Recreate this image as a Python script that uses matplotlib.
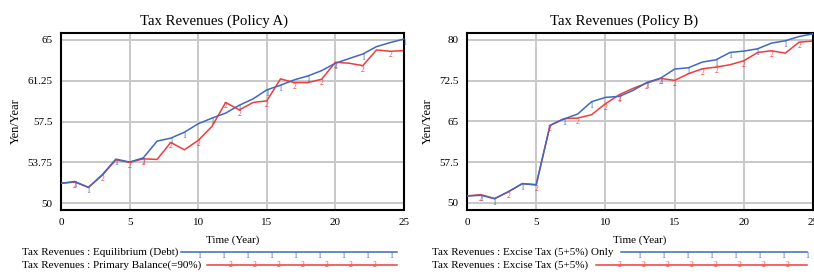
import matplotlib.pyplot as plt
from matplotlib.lines import Line2D

plt.rcParams['font.family'] = ['Liberation Serif', 'DejaVu Serif']

years = list(range(26))

# Policy A
equilibrium_debt = [51.81, 51.99, 51.44, 52.6, 54.04, 53.77, 54.16, 55.69, 55.97, 56.52,
                    57.29, 57.81, 58.27, 59.0, 59.58, 60.41, 60.84, 61.33, 61.69, 62.18,
                    62.86, 63.29, 63.71, 64.39, 64.76, 65.09]
primary_balance = [51.81, 51.93, 51.44, 52.54, 53.98, 53.74, 54.07, 54.01, 55.57, 54.9,
                   55.76, 57.04, 59.25, 58.57, 59.25, 59.4, 61.42, 61.08, 61.08, 61.39,
                   62.95, 62.86, 62.64, 64.08, 63.96, 64.02]

# Policy B
excise_only = [51.28, 51.4, 50.79, 52.08, 53.55, 53.3, 64.26, 65.43, 66.35, 68.61,
               69.41, 69.59, 70.69, 72.16, 72.96, 74.61, 74.86, 75.9, 76.33, 77.67,
               77.92, 78.35, 79.39, 79.82, 80.61, 81.1]
excise_tax = [51.28, 51.53, 50.79, 52.08, 53.55, 53.37, 64.26, 65.49, 65.61, 66.22,
              68.24, 69.9, 71.06, 72.04, 72.9, 72.53, 73.76, 74.67, 74.98, 75.41,
              76.14, 77.67, 77.98, 77.55, 79.57, 79.76]

titles = ["Tax Revenues (Policy A)", "Tax Revenues (Policy B)"]
legend_labels = [
    ["Tax Revenues : Equilibrium (Debt)", "Tax Revenues : Primary Balance(=90%)"],
    ["Tax Revenues : Excise Tax (5+5%) Only", "Tax Revenues : Excise Tax (5+5%)"],
]
yticks_a = [50, 53.75, 57.5, 61.25, 65]
yticks_b = [50, 57.5, 65, 72.5, 80]

BLUE = '#3f68c0'
RED = '#f03c3c'

W, H = 814, 275
fig = plt.figure(figsize=(W / 100, H / 100), dpi=100)
fig.patch.set_facecolor('white')


def draw_panel(rect, title, title_x, s1, s2, yticks, ylim, m1, m2, ylabels):
    ax = fig.add_axes(rect)
    ax.plot(years, s1, color=BLUE, lw=1.1, zorder=3)
    ax.plot(years, s2, color=RED, lw=1.1, zorder=2)
    for i in m1:
        ax.text(years[i], s1[i], '1', color=BLUE, fontsize=5.5, ha='center', va='top', zorder=4)
    for i in m2:
        ax.text(years[i], s2[i], '2', color=RED, fontsize=5.5, ha='center', va='top', zorder=4)
    ax.set_xlim(0, 25)
    ax.set_ylim(*ylim)
    ax.set_xticks([0, 5, 10, 15, 20, 25])
    ax.set_yticks(yticks)
    ax.set_yticklabels(ylabels)
    ax.grid(True, color='#c8c8c8', lw=1.4)
    ax.set_axisbelow(True)
    ax.tick_params(length=0, labelsize=8, pad=6)
    for sp in ax.spines.values():
        sp.set_linewidth(1.5)
    ax.set_title(title, fontsize=10.6, pad=6, x=title_x)
    ax.set_xlabel("Time (Year)", fontsize=8, labelpad=6)
    ax.set_ylabel("Yen/Year", fontsize=9, labelpad=4)
    return ax


draw_panel([61 / W, 1 - 210 / H, 343 / W, 177 / H], titles[0], 0.446,
           equilibrium_debt, primary_balance, yticks_a, (49.36, 65.64),
           [1, 2, 4, 6, 8, 9, 11, 13, 15, 16, 18, 20, 22, 25],
           [1, 3, 5, 6, 8, 10, 12, 13, 15, 17, 19, 20, 22, 24],
           ['50', '53.75', '57.5', '61.25', '65'])
draw_panel([467 / W, 1 - 210 / H, 346 / W, 177 / H], titles[1], 0.454,
           excise_only, excise_tax, yticks_b, (48.7, 81.25),
           [1, 2, 4, 7, 9, 11, 13, 14, 16, 18, 19, 21, 23],
           [1, 3, 5, 6, 8, 10, 11, 13, 14, 15, 17, 18, 20, 22, 24],
           ['50', '57.5', '65', '72.5', '80'])


def legend_row(x_text, y, label, x0, x1, color, mark):
    fig.text(x_text / W, 1 - y / H, label, fontsize=8, ha='left', va='center')
    fig.add_artist(Line2D([x0 / W, x1 / W], [1 - y / H, 1 - y / H], color=color, lw=1.1,
                          transform=fig.transFigure))
    x = x0 + 18 if mark == '1' else x0 + 24
    while x <= x1 + 1:
        fig.text(x / W, 1 - y / H, mark, color=color, fontsize=5.5, ha='center',
                 va='top' if mark == '1' else 'center')
        x += 24


legend_row(22, 252, legend_labels[0][0], 181, 397, BLUE, '1')
legend_row(22, 265, legend_labels[0][1], 207, 397, RED, '2')
legend_row(432, 252, legend_labels[1][0], 621, 807, BLUE, '1')
legend_row(432, 265, legend_labels[1][1], 596, 807, RED, '2')

fig.savefig('out.png', dpi=100)
